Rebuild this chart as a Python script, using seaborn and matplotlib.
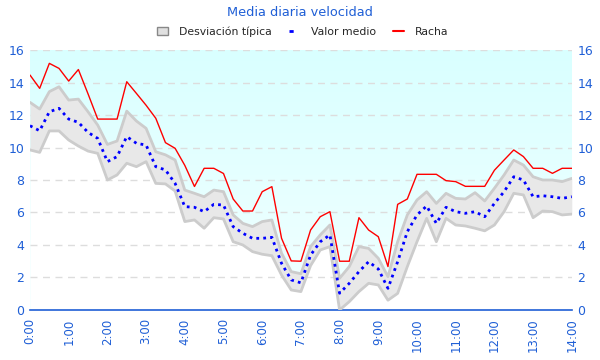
import numpy as np
import pandas as pd
import matplotlib
matplotlib.use('Agg')
import matplotlib.pyplot as plt
import seaborn as sns
from matplotlib.colors import LinearSegmentedColormap
from matplotlib.patches import Patch
from matplotlib.lines import Line2D

# ---- data (15-minute steps from 0:00 to 14:00) ----
racha = [14.46, 13.64, 15.18, 14.87, 14.09, 14.8, 13.3, 11.75, 11.75, 11.75,
         14.05, 13.33, 12.6, 11.8, 10.3, 9.95, 8.9, 7.6, 8.72, 8.72,
         8.4, 6.83, 6.09, 6.09, 7.28, 7.59, 4.41, 3.02, 3.0, 4.92,
         5.74, 6.05, 3.0, 3.0, 5.68, 4.92, 4.51, 2.67, 6.5, 6.83,
         8.35, 8.35, 8.35, 7.96, 7.9, 7.61, 7.61, 7.61, 8.6, 9.23,
         9.85, 9.44, 8.72, 8.72, 8.41, 8.72, 8.72]
media = [11.34, 11.03, 12.2, 12.41, 11.75, 11.55, 10.93, 10.56, 9.13, 9.44,
         10.67, 10.26, 10.15, 8.82, 8.62, 7.79, 6.36, 6.32, 6.05, 6.5,
         6.46, 5.13, 4.72, 4.41, 4.41, 4.47, 2.87, 1.85, 1.67, 3.38,
         4.2, 4.62, 1.03, 1.64, 2.36, 2.97, 2.52, 1.33, 2.97, 4.82,
         5.85, 6.4, 5.33, 6.32, 6.05, 5.95, 6.05, 5.74, 6.56, 7.28,
         8.2, 8.0, 6.97, 7.03, 6.97, 6.87, 6.97]
desv_sup = [12.78, 12.37, 13.44, 13.74, 12.92, 12.98, 12.2, 11.38, 10.19, 10.4,
            12.24, 11.63, 11.18, 9.74, 9.55, 9.23, 7.38, 7.18, 6.97, 7.38,
            7.28, 5.85, 5.33, 5.13, 5.44, 5.54, 3.49, 2.36, 2.23, 3.9,
            4.62, 5.23, 1.95, 2.67, 3.9, 3.79, 3.18, 2.05, 4.2, 5.85,
            6.77, 7.28, 6.56, 7.18, 6.87, 6.83, 7.22, 6.71, 7.49, 8.31,
            9.23, 8.92, 8.2, 8.0, 8.0, 7.9, 8.1]
desv_inf = [9.85, 9.7, 11.02, 11.02, 10.46, 10.09, 9.78, 9.64, 8.0, 8.31,
            9.03, 8.82, 9.13, 7.79, 7.76, 7.32, 5.44, 5.54, 5.03, 5.68,
            5.6, 4.2, 4.0, 3.59, 3.43, 3.34, 2.15, 1.23, 1.13, 2.73,
            3.69, 3.9, 0.0, 0.51, 1.13, 1.64, 1.54, 0.6, 1.02, 2.67,
            4.2, 5.64, 4.2, 5.64, 5.23, 5.17, 5.03, 4.87, 5.23, 6.05,
            7.18, 7.08, 5.68, 6.09, 6.05, 5.85, 5.9]
horas = [i / 4 for i in range(len(racha))]
hour_labels = [f"{h}:00" for h in range(15)]

df = pd.DataFrame({"hora": horas, "racha": racha, "media": media,
                   "sup": desv_sup, "inf": desv_inf})

blue_txt = "#1f5fd6"

sns.set_style("white")
fig = plt.figure(figsize=(6, 3.6), dpi=100)
ax = fig.add_axes([0.05, 0.139, 0.903, 0.722])

# gradient background (cyan top -> almost white bottom)
cmap = LinearSegmentedColormap.from_list("bg", ["#f2ffff", "#d9ffff"])
grad = np.linspace(0, 1, 256).reshape(-1, 1)
ax.imshow(grad, aspect="auto", cmap=cmap, origin="lower",
          extent=[0, 14, 0, 16], zorder=0)

# white below the lower std edge
ax.fill_between(df["hora"], 0, df["inf"], color="white", zorder=1, lw=0)
# std band
ax.fill_between(df["hora"], df["inf"], df["sup"], color="#e8e8e8", zorder=2, lw=0)
sns.lineplot(data=df, x="hora", y="sup", color="#cccccc", lw=2, ax=ax, zorder=3)
sns.lineplot(data=df, x="hora", y="inf", color="#cccccc", lw=2, ax=ax, zorder=3)

# grid
for yv in range(2, 17, 2):
    ax.axhline(yv, color="#dddddd", ls=(0, (5, 4)), lw=1, zorder=1.5)

sns.lineplot(data=df, x="hora", y="racha", color="red", lw=1, ax=ax, zorder=5)
sns.lineplot(data=df, x="hora", y="media", color="blue", lw=2,
             ls=(0, (1, 1.5)), ax=ax, zorder=4)

ax.set_xlim(0, 14)
ax.set_ylim(0, 16)
ax.set_xlabel("")
ax.set_ylabel("")
ax.set_xticks(range(15))
ax.set_xticklabels(hour_labels, rotation=90)
ax.set_xticks(horas, minor=True)
ax.set_yticks(range(0, 17, 2))
ax.tick_params(axis="x", which="both", direction="out", length=4, width=1,
               color=blue_txt, labelcolor=blue_txt, labelsize=8.5, pad=2)
ax.tick_params(axis="y", length=0, labelcolor=blue_txt, labelsize=9,
               left=False, right=False, labelleft=True, labelright=True, pad=4)
for s in ["top", "left", "right"]:
    ax.spines[s].set_visible(False)
ax.spines["bottom"].set_color(blue_txt)
ax.spines["bottom"].set_linewidth(1.2)

fig.suptitle("Media diaria velocidad", color=blue_txt, fontsize=9.3, y=0.982)

handles = [Patch(facecolor="#e0e0e0", edgecolor="#888888", label="Desviación típica"),
           Line2D([], [], color="blue", lw=2, ls=(0, (1.5, 2.5)), label="Valor medio"),
           Line2D([], [], color="red", lw=1.5, label="Racha")]
fig.legend(handles=handles, loc="center", bbox_to_anchor=(0.505, 0.912),
           ncol=3, frameon=False, fontsize=7.8, handlelength=1.0,
           handleheight=0.8, columnspacing=1.6, handletextpad=1.0)

fig.savefig("out.png", dpi=100)
